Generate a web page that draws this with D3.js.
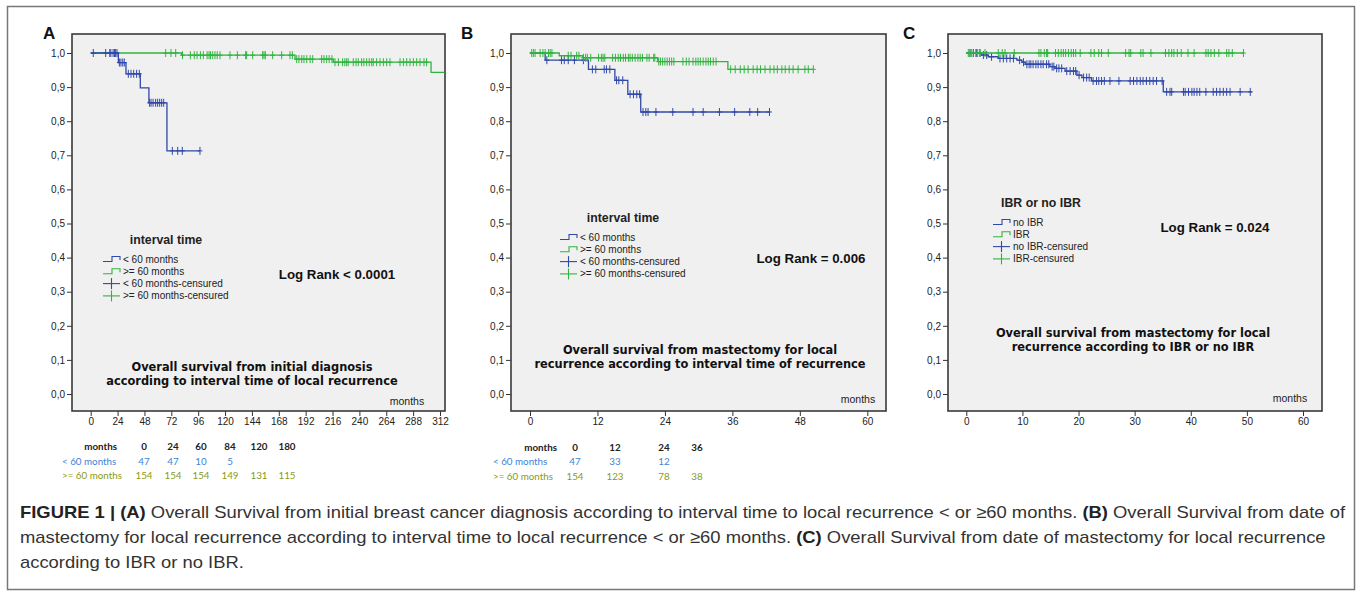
<!DOCTYPE html>
<html><head><meta charset="utf-8">
<script src="https://cdn.jsdelivr.net/npm/d3@7"></script>
<style>body{margin:0;background:#fff}svg{display:block}</style>
</head><body><svg id="c" width="1360" height="598"></svg>
<script>
// ---------------- DATA ----------------
const yTicks = [0,0.1,0.2,0.3,0.4,0.5,0.6,0.7,0.8,0.9,1.0];
const aXTicks = [0,24,48,72,96,120,144,168,192,216,240,264,288,312];
const bXTicks = [0,12,24,36,48,60];
const cXTicks = [0,10,20,30,40,50,60];

// Panel A (<60 months = blue, >=60 months = green)
const aBlueSteps = [[0,1],[24.7,0.972],[31.5,0.939],[44.3,0.898],[52,0.854],[68.1,0.713]];
const aBlueCensor = [2.3,13.4,17,18,20,21.3,22.3,23.5,25.6,27,28.6,30,33.6,36,38.4,41,43.4,52.6,53.9,55.7,58,59.8,61.6,63.4,65.2,72.9,77.7,81.8,97.6];
const aBlueEnd = 97.6;
const aGreenSteps = [[0,1],[81.2,0.9935],[182.5,0.982],[216.7,0.973],[304,0.943]];
const aGreenCensor = [67,71.7,75.9,82,89,92.5,95,98,100.6,104,105.7,107,109,111,113,115.5,124.4,131,138.4,139.3,144.7,153.6,154.8,156,162.5,170.6,178,180.1,184,186,188.5,190.5,193,196,198.3,206.3,208.4,210.8,213,215.5,218.2,221.2,225,227,228.6,230,234.5,237,239,242,244,246.5,248.8,251,252.4,255.4,258.4,261.4,264.4,267.3,276.3,279.3,282.3,285.2,288.2,291.2,294.1,297.7,300];
const aGreenEnd = 316;

// Panel B
const bBlueSteps = [[0,1],[2.7,0.979],[10.4,0.952],[15.1,0.920],[17.4,0.879],[19.7,0.827]];
const bBlueCensor = [3,5.6,6.1,6.8,7.9,9.5,11.1,11.7,13.2,13.6,14.2,15.4,15.8,16.5,17.8,18.4,19,19.5,20.1,20.6,21,22.4,25.4,29,30.8,33.7,36.4,39.1,40.5,42.6];
const bBlueEnd = 42.6;
const bGreenSteps = [[0,1],[5.2,0.992],[9.4,0.986],[22.7,0.975],[35.2,0.952]];
const bGreenCensor = [0.3,0.6,0.9,1.8,2.3,2.7,3.3,3.6,3.9,6.8,7.3,8.3,8.7,9.5,9.9,10.2,10.8,12.2,12.7,13,13.3,14.7,15.2,15.7,16.1,16.6,17,17.5,17.8,18.2,18.7,19.2,19.6,20,20.8,21.2,22,22.2,22.9,23.2,23.6,24,24.4,24.8,25.2,25.6,27.2,27.8,28.3,29,29.5,29.9,30.3,30.8,31.3,31.7,32.1,32.6,33.1,35.7,36.5,37.4,38.1,38.8,39.7,40.4,41,41.8,42.7,43.4,44,44.8,45.4,46.1,46.8,47.7,48.9,49.5,50.4];
const bGreenEnd = 50.4;

// Panel C (no IBR = blue, IBR = green)
const cBlueSteps = [[0,1],[2.7,0.994],[3.9,0.989],[5.7,0.984],[9.0,0.979],[9.9,0.973],[10.5,0.967],[14.9,0.960],[15.8,0.955],[17.6,0.947],[19.7,0.935],[20.6,0.928],[22.3,0.918],[35.1,0.886]];
const cBlueCensor = [0.66,1.25,1.85,2.44,3.04,3.63,4.5,6.0,6.6,7.2,7.8,8.4,9.5,10.2,10.8,11.2,11.5,11.9,12.4,12.8,13.3,13.7,14.3,14.7,15.3,15.6,16.1,16.5,17.0,17.9,18.5,19.1,19.5,20.1,20.9,21.45,21.9,22.6,23.2,23.6,24.1,24.6,25.6,27.2,29.2,29.8,30.4,31.0,31.5,32.1,32.7,33.3,33.9,34.9,35.7,36.3,36.6,38.7,39.0,39.6,40.2,40.6,41.1,41.6,42.7,44.0,44.6,45.2,45.8,46.4,47.0,48.8,50.6];
const cBlueEnd = 50.9;
const cGreenSteps = [[0,1]];
const cGreenCensor = [0.36,0.66,0.96,1.68,2.03,2.44,3.33,5.7,6.4,6.9,8.55,12.95,13.3,13.9,14.3,14.5,15.9,16.4,16.9,17.3,17.7,18.2,18.7,19.1,19.5,20.3,22.2,22.8,23.6,24.1,25.3,28.4,29,29.3,31.1,31.5,32.9,35.5,36.1,36.6,37,37.6,38.3,39.5,40.6,42.7,43.1,43.6,44.2,45,46.4,46.8,47.4,49.4];
const cGreenEnd = 49.4;

// Legends and texts
const abLegendTitle = "interval time";
const abLegendLabels = ["< 60 months", ">= 60 months", "< 60 months-censured", ">= 60 months-censured"];
const cLegendTitle = "IBR or no IBR";
const cLegendLabels = ["no IBR", "IBR", "no IBR-censured", "IBR-censured"];
const logRanks = ["Log Rank < 0.0001", "Log Rank = 0.006", "Log Rank = 0.024"];
const titlesA = ["Overall survival from initial diagnosis", "according to interval time of local recurrence"];
const titlesB = ["Overall survival from mastectomy for local", "recurrence according to interval time of recurrence"];
const titlesC = ["Overall survival from mastectomy for local", "recurrence according to IBR or no IBR"];
const panelLetters = ["A","B","C"];

// Risk tables
const riskRowLabels = ["months", "< 60 months", ">= 60 months"];
const aRiskMonths = ["0","24","60","84","120","180"];
const aRiskLow = ["47","47","10","5"];
const aRiskHigh = ["154","154","154","149","131","115"];
const bRiskMonths = ["0","12","24","36"];
const bRiskLow = ["47","33","12"];
const bRiskHigh = ["154","123","78","38"];

// Caption
const captionLines = [
  [["FIGURE 1 | (A)",1],[" Overall Survival from initial breast cancer diagnosis according to interval time to local recurrence < or ≥60 months. ",0],["(B)",1],[" Overall Survival from date of",0]],
  [["mastectomy for local recurrence according to interval time to local recurrence < or ≥60 months. ",0],["(C)",1],[" Overall Survival from date of mastectomy for local recurrence",0]],
  [["according to IBR or no IBR.",0]]
];

// ---------------- DRAW ----------------
const BLUE = "#3048a8", GREEN = "#2fb43e";
const svg = d3.select("#c");
const FONT = "'Liberation Sans', Arial, sans-serif";

svg.append("rect").attr("x",7.5).attr("y",6.5).attr("width",1347).attr("height",583)
  .attr("fill","#fff").attr("stroke","#777").attr("stroke-width",1.5);

const yFmt = v => d3.format(".1f")(v).replace(".", ",");

function stepAt(steps, t){ let s = steps[0][1]; for (const [tt,ss] of steps) if (tt <= t) s = ss; return s; }

function drawSeries(g, x, y, steps, censor, end, color){
  const pts = steps.map(d => d.slice());
  pts.push([end, steps[steps.length-1][1]]);
  const line = d3.line().x(d => x(d[0])).y(d => y(d[1])).curve(d3.curveStepAfter);
  g.append("path").attr("d", line(pts)).attr("fill","none").attr("stroke",color).attr("stroke-width",1.3);
  const cg = g.append("g").attr("stroke",color).attr("stroke-width",1);
  censor.forEach(t => {
    const cx = x(t), cy = y(stepAt(steps, t));
    cg.append("line").attr("x1",cx).attr("x2",cx).attr("y1",cy-4).attr("y2",cy+4);
    cg.append("line").attr("x1",cx-2.5).attr("x2",cx+2.5).attr("y1",cy).attr("y2",cy);
  });
}

function panel(cfg){
  const g = svg.append("g");
  const x = d3.scaleLinear().domain([cfg.xTicks[0], cfg.xTicks[cfg.xTicks.length-1]]).range(cfg.xr);
  const y = d3.scaleLinear().domain([0,1]).range([394,53]);
  g.append("rect").attr("x",cfg.box[0]).attr("y",cfg.box[1]).attr("width",cfg.box[2]-cfg.box[0]).attr("height",cfg.box[3]-cfg.box[1])
    .attr("fill","#f0f0f0");
  const ya = g.append("g").attr("transform",`translate(${cfg.box[0]},0)`)
    .call(d3.axisLeft(y).tickValues(yTicks).tickFormat(yFmt).tickSize(5).tickPadding(2));
  const xa = g.append("g").attr("transform",`translate(0,${cfg.box[3]})`)
    .call(d3.axisBottom(x).tickValues(cfg.xTicks).tickSize(5).tickPadding(2));
  [ya,xa].forEach(a => {
    a.select(".domain").remove();
    a.selectAll("line").attr("stroke","#333");
    a.selectAll("text").attr("font-family",FONT).attr("font-size",10).attr("fill","#222");
  });
  g.append("rect").attr("x",cfg.box[0]).attr("y",cfg.box[1]).attr("width",cfg.box[2]-cfg.box[0]).attr("height",cfg.box[3]-cfg.box[1])
    .attr("fill","none").attr("stroke","#3a3a3a").attr("stroke-width",1.6);
  const sg = g.append("g");
  cfg.series.forEach(s => drawSeries(sg, x, y, s[0], s[1], s[2], s[3]));
  g.append("text").attr("x",cfg.letterX).attr("y",39).text(cfg.letter)
    .attr("font-family",FONT).attr("font-weight","bold").attr("font-size",17).attr("fill","#111");
  g.append("text").attr("x",cfg.monthsPos[0]).attr("y",cfg.monthsPos[1]).attr("text-anchor","middle").text("months")
    .attr("font-family",FONT).attr("font-size",10.5).attr("fill","#222");
  const L = cfg.legend;
  g.append("text").attr("x",L.titleX).attr("y",L.titleY).attr("text-anchor","middle").text(L.title)
    .attr("font-family",FONT).attr("font-weight","bold").attr("font-size",12.3).attr("fill","#222");
  L.labels.forEach((lab,i) => {
    const yy = L.y0 + i*L.dy, col = (i % 2 === 0) ? BLUE : GREEN, sx = L.sx;
    if (i < 2) {
      g.append("path").attr("d",`M${sx},${yy-1} H${sx+9} V${yy-6} H${sx+17} V${yy-2.5}`)
        .attr("fill","none").attr("stroke",col).attr("stroke-width",1.1);
    } else {
      g.append("line").attr("x1",sx).attr("x2",sx+17).attr("y1",yy-3.5).attr("y2",yy-3.5).attr("stroke",col).attr("stroke-width",1.1);
      g.append("line").attr("x1",sx+8.5).attr("x2",sx+8.5).attr("y1",yy-9).attr("y2",yy+2).attr("stroke",col).attr("stroke-width",1.1);
    }
    g.append("text").attr("x",sx+20).attr("y",yy).text(lab)
      .attr("font-family",FONT).attr("font-size",10).attr("fill","#222");
  });
  g.append("text").attr("x",cfg.logPos[0]).attr("y",cfg.logPos[1]).attr("text-anchor","middle").text(cfg.logRank)
    .attr("font-family",FONT).attr("font-weight","bold").attr("font-size",13.3).attr("fill","#111");
  cfg.titles.forEach((t,i) => {
    g.append("text").attr("x",cfg.titlePos[0]).attr("y",cfg.titlePos[1] + i*14).attr("text-anchor","middle").text(t)
      .attr("font-family","'DejaVu Sans', Verdana, sans-serif").attr("font-weight","bold").attr("font-size",11.4).attr("fill","#111");
  });
  return {g, x, y};
}

panel({
  box:[72,34,445,411], xr:[90.7,440], xTicks:aXTicks, letter:panelLetters[0], letterX:43,
  monthsPos:[407,405],
  series:[[aGreenSteps,aGreenCensor,aGreenEnd,GREEN],[aBlueSteps,aBlueCensor,aBlueEnd,BLUE]],
  legend:{title:abLegendTitle, titleX:166, titleY:244, labels:abLegendLabels, y0:262.5, dy:12.3, sx:103},
  logRank:logRanks[0], logPos:[337,278.5], titles:titlesA, titlePos:[252,370.5]
});
panel({
  box:[511,34,886,411], xr:[530,867.3], xTicks:bXTicks, letter:panelLetters[1], letterX:461,
  monthsPos:[858,403],
  series:[[bBlueSteps,bBlueCensor,bBlueEnd,BLUE],[bGreenSteps,bGreenCensor,bGreenEnd,GREEN]],
  legend:{title:abLegendTitle, titleX:623, titleY:222, labels:abLegendLabels, y0:240.5, dy:12.3, sx:560},
  logRank:logRanks[1], logPos:[811,262.5], titles:titlesB, titlePos:[700,353.5]
});
panel({
  box:[948,34,1322,411], xr:[966.3,1303], xTicks:cXTicks, letter:panelLetters[2], letterX:903,
  monthsPos:[1290,402],
  series:[[cBlueSteps,cBlueCensor,cBlueEnd,BLUE],[cGreenSteps,cGreenCensor,cGreenEnd,GREEN]],
  legend:{title:cLegendTitle, titleX:1041, titleY:207, labels:cLegendLabels, y0:225.5, dy:12.3, sx:993},
  logRank:logRanks[2], logPos:[1215,231.5], titles:titlesC, titlePos:[1133,336.5]
});

// risk tables
const RFONT = "Lato, 'Open Sans', sans-serif";
const rowColors = ["#222", "#3b84d6", "#8a9a14"];
function riskTable(cfg){
  const g = svg.append("g").attr("font-family",RFONT).attr("font-size",9.8);
  const rows = [cfg.months, cfg.low, cfg.high];
  rows.forEach((vals, r) => {
    const yy = cfg.ys[r];
    const lab = g.append("text").attr("y",yy).text(riskRowLabels[r]).attr("fill",rowColors[r])
      .attr("font-weight", r === 0 ? "bold" : "normal");
    if (r === 0) lab.attr("x",cfg.headerRight).attr("text-anchor","end");
    else lab.attr("x",cfg.labelLeft);
    vals.forEach((v,i) => {
      g.append("text").attr("x",cfg.colX[i]).attr("y",yy).attr("text-anchor","middle").text(v)
        .attr("fill",rowColors[r]).attr("font-weight", r === 0 ? "bold" : "normal");
    });
  });
}
riskTable({months:aRiskMonths, low:aRiskLow, high:aRiskHigh, ys:[449.5,464.5,478.5], headerRight:117, labelLeft:62,
  colX:[144,173,201,230,259,287]});
riskTable({months:bRiskMonths, low:bRiskLow, high:bRiskHigh, ys:[450.5,464.5,479.5], headerRight:557, labelLeft:493,
  colX:[575,615,664,697]});

// caption (condensed sans, fitted to the reference line width)
const capG = svg.append("g").attr("font-family","'Liberation Sans Narrow','Arial Narrow','Liberation Sans',sans-serif").attr("fill","#333");
const capTexts = captionLines.map((line,i) => {
  const t = capG.append("text").attr("x",0).attr("y",0).attr("font-size",17)
    .attr("transform",`translate(20,${518 + i*25})`);
  line.forEach(([s,b]) => t.append("tspan").text(s).attr("font-weight", b ? "bold" : "normal").attr("fill", b ? "#222" : "#333"));
  return t;
});
const w0 = capTexts[0].node().getComputedTextLength();
const sx = 1326 / w0;
capTexts.forEach((t,i) => t.attr("transform",`translate(20,${518 + i*25}) scale(${sx},1)`));
</script></body></html>
